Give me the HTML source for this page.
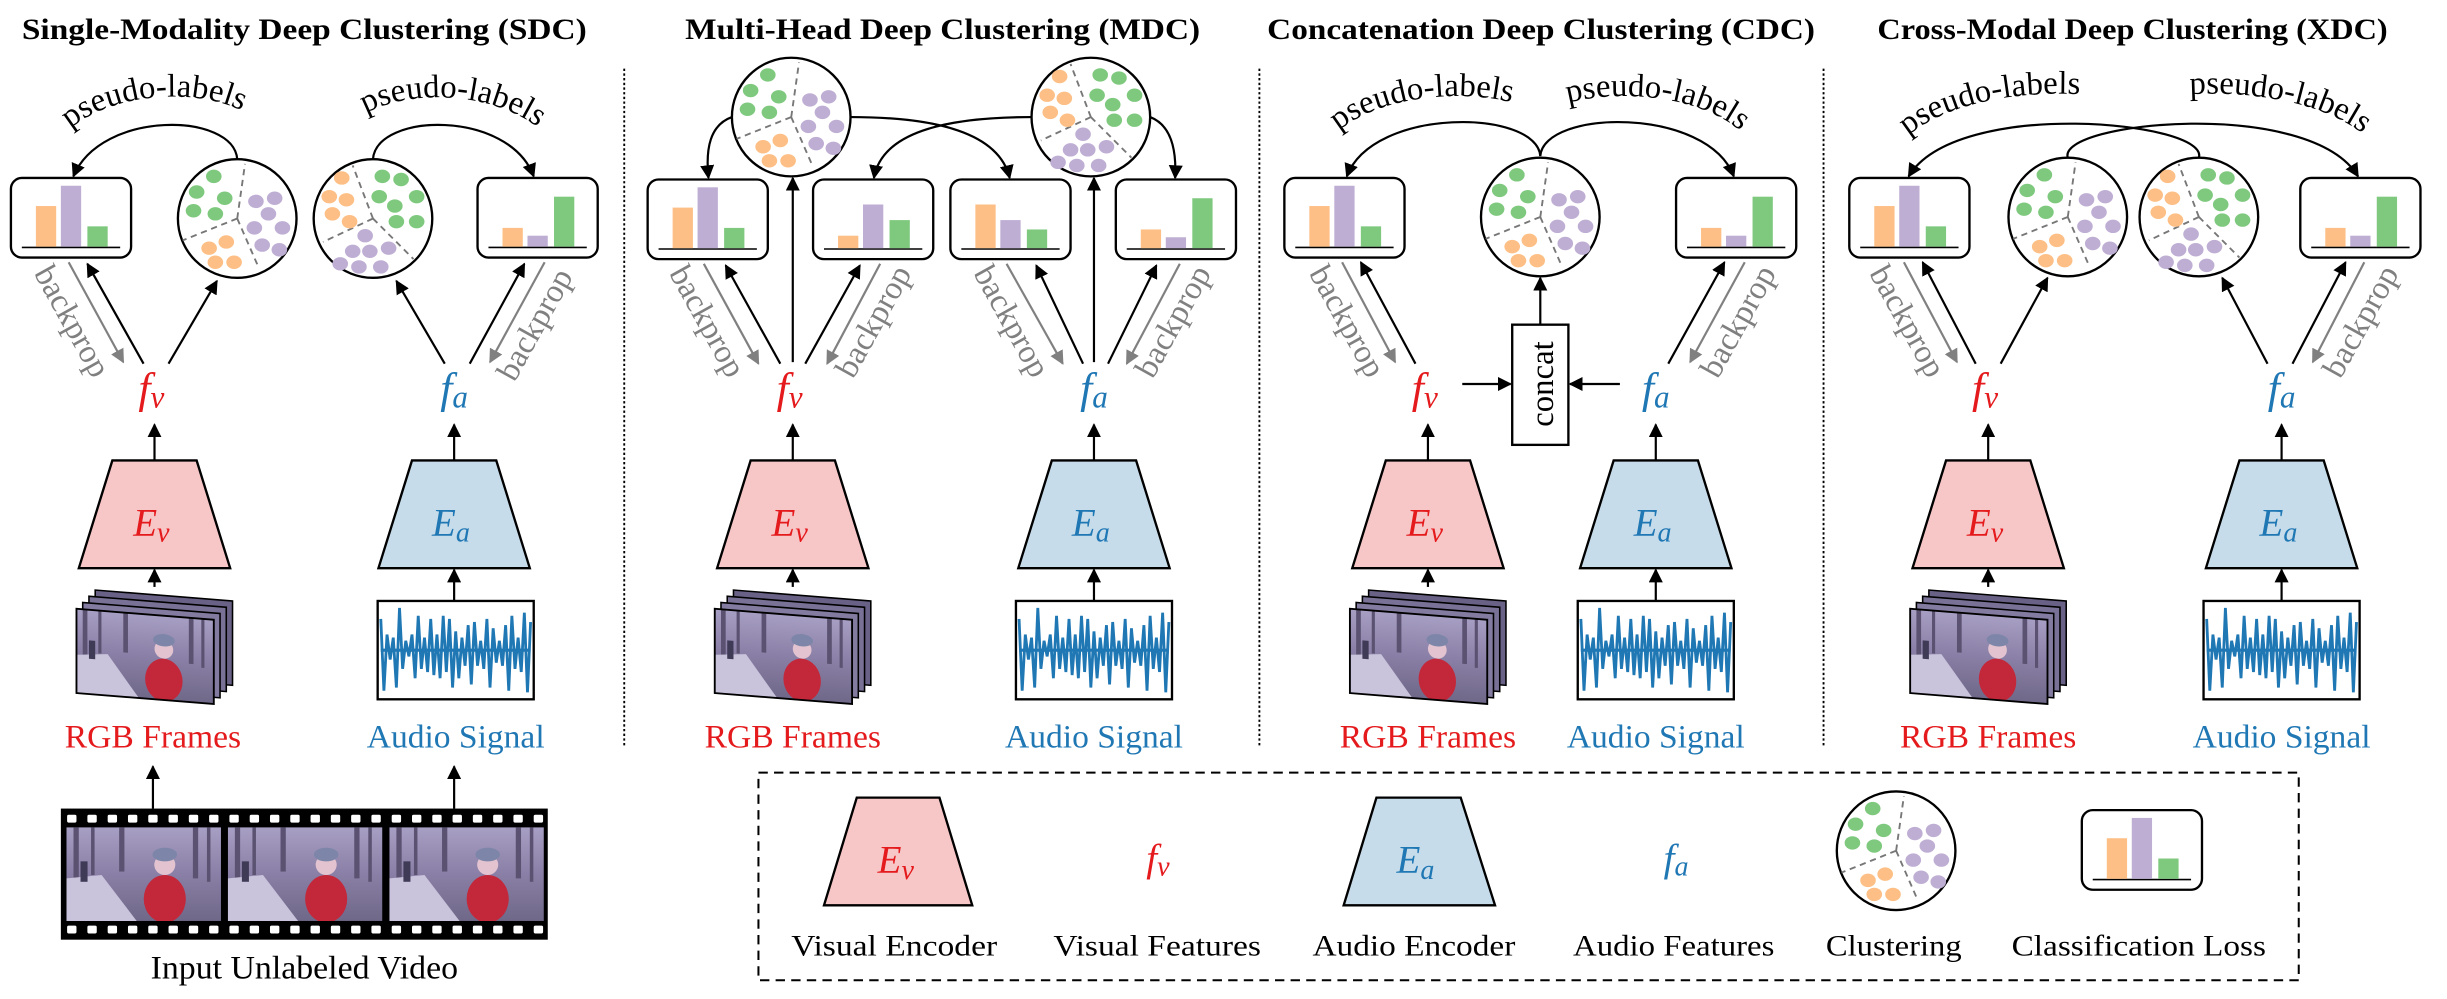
<!DOCTYPE html>
<html><head><meta charset="utf-8"><style>
html,body{margin:0;padding:0;background:#fff;}
svg{display:block;font-family:"Liberation Serif","DejaVu Serif",serif;}
svg text{font-family:"Liberation Serif","DejaVu Serif",serif;}
</style></head><body>
<svg width="2447" height="999" viewBox="0 0 1568 640" preserveAspectRatio="none" xmlns="http://www.w3.org/2000/svg" font-family="Liberation Serif, DejaVu Serif, serif">
<defs>
<marker id="ah" viewBox="0 0 10 10" refX="9" refY="5" markerWidth="9" markerHeight="9" markerUnits="userSpaceOnUse" orient="auto"><path d="M0,0 L10,5 L0,10 z" fill="#000"/></marker>
<marker id="ag" viewBox="0 0 10 10" refX="9" refY="5" markerWidth="9" markerHeight="9" markerUnits="userSpaceOnUse" orient="auto"><path d="M0,0 L10,5 L0,10 z" fill="#808080"/></marker>
<linearGradient id="sky" x1="0" y1="0" x2="0" y2="1"><stop offset="0" stop-color="#a89fc4"/><stop offset="0.5" stop-color="#8a7fa6"/><stop offset="1" stop-color="#6f6888"/></linearGradient>
<symbol id="scene" viewBox="0 0 88 55" preserveAspectRatio="none">
<rect width="88" height="55" fill="url(#sky)"/>
<rect x="4" y="0" width="3" height="30" fill="#5a5270"/><rect x="14" y="0" width="2" height="28" fill="#5a5270"/><rect x="30" y="0" width="3" height="26" fill="#5a5270"/><rect x="72" y="0" width="3" height="30" fill="#5a5270"/><rect x="80" y="0" width="2" height="32" fill="#5a5270"/>
<polygon points="0,55 0,30 20,28 40,55" fill="#c9c3db"/>
<rect x="8" y="20" width="4" height="12" fill="#3f3a55"/>
<ellipse cx="56" cy="42" rx="12" ry="14" fill="#c3283a"/>
<circle cx="56" cy="22" r="6" fill="#e2c3cf"/>
<ellipse cx="56" cy="16" rx="7" ry="4" fill="#7d86a8"/>
</symbol>
<g id="frames">
<g transform="translate(12,-12) matrix(1,0.08,0,1,0,0)"><rect x="0" y="14" width="88" height="54" fill="#6a6286" stroke="#000" stroke-width="1"/></g>
<g transform="translate(8,-8) matrix(1,0.08,0,1,0,0)"><rect x="0" y="14" width="88" height="54" fill="#7a7296" stroke="#000" stroke-width="1"/></g>
<g transform="translate(4,-4) matrix(1,0.08,0,1,0,0)"><rect x="0" y="14" width="88" height="54" fill="#847ca0" stroke="#000" stroke-width="1"/></g>
<g transform="matrix(1,0.08,0,1,0,0)"><use href="#scene" x="0" y="14" width="88" height="54"/><rect x="0" y="14" width="88" height="54" fill="none" stroke="#000" stroke-width="1.2"/></g>
</g>
<g id="audio">
<rect x="0" y="0" width="100" height="63" fill="#fff" stroke="#000" stroke-width="1.5"/>
<line x1="2" y1="31.5" x2="98" y2="31.5" stroke="#1f77b4" stroke-width="2"/>
<polyline fill="none" stroke="#1f77b4" stroke-width="1.8" points="2,11.5 4,57.5 6,21.5 8,37.5 10,23.5 12,55.5 14,4.5 16,43.5 18,25.5 20,35.5 22,21.5 24,49.5 26,9.5 28,43.5 30,23.5 32,45.5 34,11.5 36,47.5 38,21.5 40,49.5 42,9.5 44,45.5 46,11.5 48,55.5 50,19.5 52,49.5 54,23.5 56,41.5 58,15.5 60,53.5 62,13.5 64,41.5 66,25.5 68,43.5 70,11.5 72,55.5 74,17.5 76,39.5 78,25.5 80,41.5 82,15.5 84,57.5 86,9.5 88,43.5 90,23.5 92,45.5 94,7.5 96,58.5 98,13.5"/>
</g>
<g id="clA">
<circle r="38" fill="#fff" stroke="#000" stroke-width="1.5"/>
<g stroke="#777" stroke-width="1.2" stroke-dasharray="4,3" fill="none"><path d="M0,0 L5,-35 M0,0 L-35,14 M0,0 L14,32"/></g>
<g fill="#7fc97f"><ellipse cx="-15" cy="-27" rx="5" ry="4.3"/><ellipse cx="-26" cy="-17" rx="5" ry="4.3"/><ellipse cx="-8" cy="-13" rx="5" ry="4.3"/><ellipse cx="-28" cy="-5" rx="5" ry="4.3"/><ellipse cx="-14" cy="-3" rx="5" ry="4.3"/></g>
<g fill="#bfaed4"><ellipse cx="12" cy="-11" rx="5" ry="4.3"/><ellipse cx="24" cy="-13" rx="5" ry="4.3"/><ellipse cx="20" cy="-3" rx="5" ry="4.3"/><ellipse cx="11" cy="6" rx="5" ry="4.3"/><ellipse cx="29" cy="6" rx="5" ry="4.3"/><ellipse cx="16" cy="17" rx="5" ry="4.3"/><ellipse cx="27" cy="20" rx="5" ry="4.3"/></g>
<g fill="#fdbf85"><ellipse cx="-18" cy="19" rx="5" ry="4.3"/><ellipse cx="-7" cy="15" rx="5" ry="4.3"/><ellipse cx="-14" cy="28" rx="5" ry="4.3"/><ellipse cx="-2" cy="28" rx="5" ry="4.3"/></g>
</g>
<g id="clB">
<circle r="38" fill="#fff" stroke="#000" stroke-width="1.5"/>
<g stroke="#777" stroke-width="1.2" stroke-dasharray="4,3" fill="none"><path d="M0,0 L-13,-34 M0,0 L-32,15 M0,0 L26,26"/></g>
<g fill="#fdbf85"><ellipse cx="-20" cy="-26" rx="5" ry="4.3"/><ellipse cx="-28" cy="-14" rx="5" ry="4.3"/><ellipse cx="-17" cy="-12" rx="5" ry="4.3"/><ellipse cx="-26" cy="-3" rx="5" ry="4.3"/><ellipse cx="-15" cy="2" rx="5" ry="4.3"/></g>
<g fill="#7fc97f"><ellipse cx="6" cy="-27" rx="5" ry="4.3"/><ellipse cx="18" cy="-25" rx="5" ry="4.3"/><ellipse cx="28" cy="-14" rx="5" ry="4.3"/><ellipse cx="4" cy="-14" rx="5" ry="4.3"/><ellipse cx="14" cy="-8" rx="5" ry="4.3"/><ellipse cx="15" cy="2" rx="5" ry="4.3"/><ellipse cx="28" cy="2" rx="5" ry="4.3"/></g>
<g fill="#bfaed4"><ellipse cx="-5" cy="11" rx="5" ry="4.3"/><ellipse cx="-13" cy="21" rx="5" ry="4.3"/><ellipse cx="-2" cy="21" rx="5" ry="4.3"/><ellipse cx="10" cy="19" rx="5" ry="4.3"/><ellipse cx="-21" cy="29" rx="5" ry="4.3"/><ellipse cx="-9" cy="31" rx="5" ry="4.3"/><ellipse cx="5" cy="31" rx="5" ry="4.3"/></g>
</g>
<g id="boxframe"><rect x="0" y="0" width="77" height="51" rx="7" fill="#fff" stroke="#000" stroke-width="1.5"/><line x1="7" y1="44.5" x2="70" y2="44.5" stroke="#000" stroke-width="1"/></g>
<g id="lossL"><use href="#boxframe"/><rect x="16" y="18" width="13" height="26" fill="#fdbf85"/><rect x="32" y="5" width="13" height="39" fill="#bfaed4"/><rect x="49" y="31" width="13" height="13" fill="#7fc97f"/></g>
<g id="lossR"><use href="#boxframe"/><rect x="16" y="32" width="13" height="12" fill="#fdbf85"/><rect x="32" y="37" width="13" height="7" fill="#bfaed4"/><rect x="49" y="12" width="13" height="32" fill="#7fc97f"/></g>
<g id="lossM2"><use href="#boxframe"/><rect x="16" y="36" width="13" height="8" fill="#fdbf85"/><rect x="32" y="16" width="13" height="28" fill="#bfaed4"/><rect x="49" y="26" width="13" height="18" fill="#7fc97f"/></g>
<g id="lossM3"><use href="#boxframe"/><rect x="16" y="16" width="13" height="28" fill="#fdbf85"/><rect x="32" y="26" width="13" height="18" fill="#bfaed4"/><rect x="49" y="32" width="13" height="12" fill="#7fc97f"/></g>

<path id="tpS1" d="M36,92 C60,58 135,52 166,78"/>
<path id="tpS2" d="M224,80 C250,55 322,55 354,90"/>
<path id="tpC1" d="M848,94 C872,60 945,54 982,70"/>
<path id="tpC2" d="M992,70 C1030,54 1102,60 1124,94"/>
<path id="tpX1" d="M1212,98 C1238,62 1310,56 1348,62"/>
<path id="tpX2" d="M1386,62 C1428,56 1500,62 1526,98"/>
</defs>

<g font-weight="bold" font-size="19" font-family="Liberation Serif, DejaVu Serif, serif">
<text x="14" y="25" textLength="362" lengthAdjust="spacingAndGlyphs">Single-Modality Deep Clustering (SDC)</text>
<text x="439" y="25" textLength="330" lengthAdjust="spacingAndGlyphs">Multi-Head Deep Clustering (MDC)</text>
<text x="812" y="25" textLength="351" lengthAdjust="spacingAndGlyphs">Concatenation Deep Clustering (CDC)</text>
<text x="1203" y="25" textLength="327" lengthAdjust="spacingAndGlyphs">Cross-Modal Deep Clustering (XDC)</text>
</g>

<g stroke="#000" stroke-width="1.2" stroke-dasharray="1.5,1.5">
<line x1="400" y1="44" x2="400" y2="479"/>
<line x1="807" y1="44" x2="807" y2="479"/>
<line x1="1168.5" y1="44" x2="1168.5" y2="479"/>
</g>

<g stroke="#000" stroke-width="1.5">
<polygon points="72,295 126,295 147.5,364 50.5,364" fill="#f7c6c7"/>
<polygon points="264,295 318,295 339.5,364 242.5,364" fill="#c6dcea"/>
<polygon points="481,295 535,295 556.5,364 459.5,364" fill="#f7c6c7"/>
<polygon points="674,295 728,295 749.5,364 652.5,364" fill="#c6dcea"/>
<polygon points="888,295 942,295 963.5,364 866.5,364" fill="#f7c6c7"/>
<polygon points="1034,295 1088,295 1109.5,364 1012.5,364" fill="#c6dcea"/>
<polygon points="1247,295 1301,295 1322.5,364 1225.5,364" fill="#f7c6c7"/>
<polygon points="1435,295 1489,295 1510.5,364 1413.5,364" fill="#c6dcea"/>
</g>
<g font-style="italic" font-size="25" text-anchor="middle" font-family="Liberation Serif, DejaVu Serif, serif">
<text x="97" y="343" fill="#e41a1c">E<tspan font-size="18" dy="4">v</tspan></text>
<text x="289" y="343" fill="#1f77b4">E<tspan font-size="18" dy="4">a</tspan></text>
<text x="506" y="343" fill="#e41a1c">E<tspan font-size="18" dy="4">v</tspan></text>
<text x="699" y="343" fill="#1f77b4">E<tspan font-size="18" dy="4">a</tspan></text>
<text x="913" y="343" fill="#e41a1c">E<tspan font-size="18" dy="4">v</tspan></text>
<text x="1059" y="343" fill="#1f77b4">E<tspan font-size="18" dy="4">a</tspan></text>
<text x="1272" y="343" fill="#e41a1c">E<tspan font-size="18" dy="4">v</tspan></text>
<text x="1460" y="343" fill="#1f77b4">E<tspan font-size="18" dy="4">a</tspan></text>
</g>
<g font-style="italic" font-size="28" text-anchor="middle" font-family="Liberation Serif, DejaVu Serif, serif">
<text x="97" y="258" fill="#e41a1c">f<tspan font-size="20" dy="3">v</tspan></text>
<text x="291" y="258" fill="#1f77b4">f<tspan font-size="20" dy="3">a</tspan></text>
<text x="506" y="258" fill="#e41a1c">f<tspan font-size="20" dy="3">v</tspan></text>
<text x="701" y="258" fill="#1f77b4">f<tspan font-size="20" dy="3">a</tspan></text>
<text x="913" y="258" fill="#e41a1c">f<tspan font-size="20" dy="3">v</tspan></text>
<text x="1061" y="258" fill="#1f77b4">f<tspan font-size="20" dy="3">a</tspan></text>
<text x="1272" y="258" fill="#e41a1c">f<tspan font-size="20" dy="3">v</tspan></text>
<text x="1462" y="258" fill="#1f77b4">f<tspan font-size="20" dy="3">a</tspan></text>
</g>
<use href="#frames" transform="translate(49,376)"/>
<use href="#frames" transform="translate(458,376)"/>
<use href="#frames" transform="translate(865,376)"/>
<use href="#frames" transform="translate(1224,376)"/>
<use href="#audio" transform="translate(242,385)"/>
<use href="#audio" transform="translate(651,385)"/>
<use href="#audio" transform="translate(1011,385)"/>
<use href="#audio" transform="translate(1412,385)"/>
<g font-size="21" text-anchor="middle" font-family="Liberation Serif, DejaVu Serif, serif">
<text x="98" y="479" fill="#e41a1c" textLength="113" lengthAdjust="spacingAndGlyphs">RGB Frames</text>
<text x="292" y="479" fill="#1f77b4" textLength="114" lengthAdjust="spacingAndGlyphs">Audio Signal</text>
<text x="508" y="479" fill="#e41a1c" textLength="113" lengthAdjust="spacingAndGlyphs">RGB Frames</text>
<text x="701" y="479" fill="#1f77b4" textLength="114" lengthAdjust="spacingAndGlyphs">Audio Signal</text>
<text x="915" y="479" fill="#e41a1c" textLength="113" lengthAdjust="spacingAndGlyphs">RGB Frames</text>
<text x="1061" y="479" fill="#1f77b4" textLength="114" lengthAdjust="spacingAndGlyphs">Audio Signal</text>
<text x="1274" y="479" fill="#e41a1c" textLength="113" lengthAdjust="spacingAndGlyphs">RGB Frames</text>
<text x="1462" y="479" fill="#1f77b4" textLength="114" lengthAdjust="spacingAndGlyphs">Audio Signal</text>
</g>
<g stroke="#000" stroke-width="1.4" marker-end="url(#ah)">
<line x1="99" y1="295" x2="99" y2="272"/><line x1="99" y1="376" x2="99" y2="365"/>
<line x1="291" y1="295" x2="291" y2="272"/><line x1="291" y1="385" x2="291" y2="365"/>
<line x1="508" y1="295" x2="508" y2="272"/><line x1="508" y1="376" x2="508" y2="365"/>
<line x1="701" y1="295" x2="701" y2="272"/><line x1="701" y1="385" x2="701" y2="365"/>
<line x1="915" y1="295" x2="915" y2="272"/><line x1="915" y1="376" x2="915" y2="365"/>
<line x1="1061" y1="295" x2="1061" y2="272"/><line x1="1061" y1="385" x2="1061" y2="365"/>
<line x1="1274" y1="295" x2="1274" y2="272"/><line x1="1274" y1="376" x2="1274" y2="365"/>
<line x1="1462" y1="295" x2="1462" y2="272"/><line x1="1462" y1="385" x2="1462" y2="365"/>
<line x1="98" y1="518" x2="98" y2="491"/><line x1="291" y1="518" x2="291" y2="491"/>
</g>

<rect x="39" y="518" width="312" height="84" fill="#000"/>
<g fill="#fff">
<rect x="43" y="522" width="6" height="5" rx="1"/><rect x="56" y="522" width="6" height="5" rx="1"/><rect x="69" y="522" width="6" height="5" rx="1"/><rect x="82" y="522" width="6" height="5" rx="1"/><rect x="95" y="522" width="6" height="5" rx="1"/><rect x="108" y="522" width="6" height="5" rx="1"/><rect x="121" y="522" width="6" height="5" rx="1"/><rect x="134" y="522" width="6" height="5" rx="1"/><rect x="147" y="522" width="6" height="5" rx="1"/><rect x="160" y="522" width="6" height="5" rx="1"/><rect x="173" y="522" width="6" height="5" rx="1"/><rect x="186" y="522" width="6" height="5" rx="1"/><rect x="199" y="522" width="6" height="5" rx="1"/><rect x="212" y="522" width="6" height="5" rx="1"/><rect x="225" y="522" width="6" height="5" rx="1"/><rect x="238" y="522" width="6" height="5" rx="1"/><rect x="251" y="522" width="6" height="5" rx="1"/><rect x="264" y="522" width="6" height="5" rx="1"/><rect x="277" y="522" width="6" height="5" rx="1"/><rect x="290" y="522" width="6" height="5" rx="1"/><rect x="303" y="522" width="6" height="5" rx="1"/><rect x="316" y="522" width="6" height="5" rx="1"/><rect x="329" y="522" width="6" height="5" rx="1"/><rect x="342" y="522" width="6" height="5" rx="1"/>
<rect x="43" y="593" width="6" height="5" rx="1"/><rect x="56" y="593" width="6" height="5" rx="1"/><rect x="69" y="593" width="6" height="5" rx="1"/><rect x="82" y="593" width="6" height="5" rx="1"/><rect x="95" y="593" width="6" height="5" rx="1"/><rect x="108" y="593" width="6" height="5" rx="1"/><rect x="121" y="593" width="6" height="5" rx="1"/><rect x="134" y="593" width="6" height="5" rx="1"/><rect x="147" y="593" width="6" height="5" rx="1"/><rect x="160" y="593" width="6" height="5" rx="1"/><rect x="173" y="593" width="6" height="5" rx="1"/><rect x="186" y="593" width="6" height="5" rx="1"/><rect x="199" y="593" width="6" height="5" rx="1"/><rect x="212" y="593" width="6" height="5" rx="1"/><rect x="225" y="593" width="6" height="5" rx="1"/><rect x="238" y="593" width="6" height="5" rx="1"/><rect x="251" y="593" width="6" height="5" rx="1"/><rect x="264" y="593" width="6" height="5" rx="1"/><rect x="277" y="593" width="6" height="5" rx="1"/><rect x="290" y="593" width="6" height="5" rx="1"/><rect x="303" y="593" width="6" height="5" rx="1"/><rect x="316" y="593" width="6" height="5" rx="1"/><rect x="329" y="593" width="6" height="5" rx="1"/><rect x="342" y="593" width="6" height="5" rx="1"/>
</g>
<use href="#scene" x="42.6" y="530" width="99" height="60"/>
<use href="#scene" x="146" y="530" width="99" height="60"/>
<use href="#scene" x="249.5" y="530" width="99" height="60"/>
<text x="195" y="627" font-size="21" text-anchor="middle" textLength="197" lengthAdjust="spacingAndGlyphs" font-family="Liberation Serif, DejaVu Serif, serif">Input Unlabeled Video</text>

<use href="#lossL" transform="translate(7,114)"/>
<use href="#clA" transform="translate(152,140)"/>
<use href="#clB" transform="translate(239,140)"/>
<use href="#lossR" transform="translate(306,114)"/>
<g fill="none" stroke="#000" stroke-width="1.4" marker-end="url(#ah)">
<path d="M152,102 C150,72 65,70 47,113"/>
<path d="M239,102 C241,72 326,70 342,113"/>
<line x1="92" y1="233" x2="56" y2="169"/>
<line x1="108" y1="233" x2="139" y2="180"/>
<line x1="285" y1="233" x2="254" y2="180"/>
<line x1="301" y1="233" x2="336" y2="169"/>
</g>
<g stroke="#808080" stroke-width="1.4" marker-end="url(#ag)">
<line x1="44" y1="168" x2="79" y2="232"/>
<line x1="349" y1="168" x2="314" y2="232"/>
</g>

<use href="#clA" transform="translate(507,75)"/>
<use href="#clB" transform="translate(699,75)"/>
<use href="#lossL" transform="translate(415,115)"/>
<use href="#lossM2" transform="translate(521,115)"/>
<use href="#lossM3" transform="translate(609,115)"/>
<use href="#lossR" transform="translate(715,115)"/>
<g fill="none" stroke="#000" stroke-width="1.4" marker-end="url(#ah)">
<path d="M469,75 C455,80 452,95 454,114"/>
<path d="M545,75 C600,75 640,85 647,114"/>
<path d="M661,75 C605,75 565,85 560,114"/>
<path d="M737,75 C750,80 754,95 753,114"/>
<line x1="508" y1="232" x2="508" y2="114"/>
<line x1="701" y1="232" x2="701" y2="114"/>
<line x1="500" y1="233" x2="465" y2="170"/>
<line x1="516" y1="233" x2="551" y2="170"/>
<line x1="694" y1="233" x2="664" y2="170"/>
<line x1="710" y1="233" x2="741" y2="170"/>
</g>
<g stroke="#808080" stroke-width="1.4" marker-end="url(#ag)">
<line x1="451" y1="169" x2="486" y2="233"/>
<line x1="564" y1="169" x2="530" y2="233"/>
<line x1="645" y1="169" x2="681" y2="233"/>
<line x1="756" y1="169" x2="722" y2="233"/>
</g>

<use href="#lossL" transform="translate(823,114)"/>
<use href="#clA" transform="translate(987,139)"/>
<use href="#lossR" transform="translate(1074,114)"/>
<rect x="969" y="208" width="36" height="77" fill="#fff" stroke="#000" stroke-width="1.5"/>
<text transform="translate(995,246) rotate(-90)" font-size="21" text-anchor="middle" font-family="Liberation Serif, DejaVu Serif, serif">concat</text>
<g fill="none" stroke="#000" stroke-width="1.4" marker-end="url(#ah)">
<path d="M987,100 C985,70 880,68 863,113"/>
<path d="M987,100 C989,70 1094,68 1111,113"/>
<line x1="907" y1="233" x2="872" y2="168"/>
<line x1="1069" y1="233" x2="1105" y2="168"/>
<line x1="937" y1="246" x2="968" y2="246"/>
<line x1="1038" y1="246" x2="1006" y2="246"/>
<line x1="987" y1="208" x2="987" y2="178"/>
</g>
<g stroke="#808080" stroke-width="1.4" marker-end="url(#ag)">
<line x1="860" y1="168" x2="894" y2="232"/>
<line x1="1118" y1="168" x2="1083" y2="232"/>
</g>

<use href="#lossL" transform="translate(1185,114)"/>
<use href="#clA" transform="translate(1325,139)"/>
<use href="#clB" transform="translate(1409,139)"/>
<use href="#lossR" transform="translate(1474,114)"/>
<g fill="none" stroke="#000" stroke-width="1.4" marker-end="url(#ah)">
<path d="M1325,101 C1318,78 1480,62 1511,113"/>
<path d="M1409,101 C1416,78 1254,62 1223,113"/>
<line x1="1266" y1="233" x2="1232" y2="168"/>
<line x1="1282" y1="233" x2="1312" y2="178"/>
<line x1="1453" y1="233" x2="1424" y2="178"/>
<line x1="1469" y1="233" x2="1503" y2="168"/>
</g>
<g stroke="#808080" stroke-width="1.4" marker-end="url(#ag)">
<line x1="1220" y1="168" x2="1254" y2="232"/>
<line x1="1515" y1="168" x2="1482" y2="232"/>
</g>

<g font-size="21" font-family="Liberation Serif, DejaVu Serif, serif">
<text><textPath href="#tpS1" startOffset="50%" text-anchor="middle">pseudo-labels</textPath></text>
<text><textPath href="#tpS2" startOffset="50%" text-anchor="middle">pseudo-labels</textPath></text>
<text><textPath href="#tpC1" startOffset="50%" text-anchor="middle">pseudo-labels</textPath></text>
<text><textPath href="#tpC2" startOffset="50%" text-anchor="middle">pseudo-labels</textPath></text>
<text><textPath href="#tpX1" startOffset="50%" text-anchor="middle">pseudo-labels</textPath></text>
<text><textPath href="#tpX2" startOffset="50%" text-anchor="middle">pseudo-labels</textPath></text>
</g>

<g font-size="21" fill="#808080" text-anchor="middle" dominant-baseline="central" font-family="Liberation Serif, DejaVu Serif, serif">
<text transform="translate(46,206) rotate(61)">backprop</text>
<text transform="translate(343,208) rotate(-61)">backprop</text>
<text transform="translate(453,206) rotate(61)">backprop</text>
<text transform="translate(560,206) rotate(-61)">backprop</text>
<text transform="translate(648,206) rotate(61)">backprop</text>
<text transform="translate(752,206) rotate(-61)">backprop</text>
<text transform="translate(863,206) rotate(61)">backprop</text>
<text transform="translate(1114,206) rotate(-61)">backprop</text>
<text transform="translate(1222,206) rotate(61)">backprop</text>
<text transform="translate(1513,206) rotate(-61)">backprop</text>
</g>

<rect x="486" y="495" width="987" height="133" fill="none" stroke="#000" stroke-width="1.3" stroke-dasharray="6,4"/>
<polygon points="549,511 602,511 623,580 528,580" fill="#f7c6c7" stroke="#000" stroke-width="1.5"/>
<polygon points="882,511 936,511 958,580 861,580" fill="#c6dcea" stroke="#000" stroke-width="1.5"/>
<g font-style="italic" font-size="25" text-anchor="middle" font-family="Liberation Serif, DejaVu Serif, serif">
<text x="574" y="559" fill="#e41a1c">E<tspan font-size="18" dy="4">v</tspan></text>
<text x="907" y="559" fill="#1f77b4">E<tspan font-size="18" dy="4">a</tspan></text>
<text x="742" y="558" fill="#e41a1c">f<tspan font-size="18" dy="3">v</tspan></text>
<text x="1074" y="558" fill="#1f77b4">f<tspan font-size="18" dy="3">a</tspan></text>
</g>
<use href="#clA" transform="translate(1215,545)"/>
<use href="#lossL" transform="translate(1334,519)"/>
<g font-size="19" font-family="Liberation Serif, DejaVu Serif, serif">
<text x="507" y="612" textLength="132" lengthAdjust="spacingAndGlyphs">Visual Encoder</text>
<text x="675" y="612" textLength="133" lengthAdjust="spacingAndGlyphs">Visual Features</text>
<text x="841" y="612" textLength="130" lengthAdjust="spacingAndGlyphs">Audio Encoder</text>
<text x="1008" y="612" textLength="129" lengthAdjust="spacingAndGlyphs">Audio Features</text>
<text x="1170" y="612" textLength="87" lengthAdjust="spacingAndGlyphs">Clustering</text>
<text x="1289" y="612" textLength="163" lengthAdjust="spacingAndGlyphs">Classification Loss</text>
</g>
</svg>
</body></html>
